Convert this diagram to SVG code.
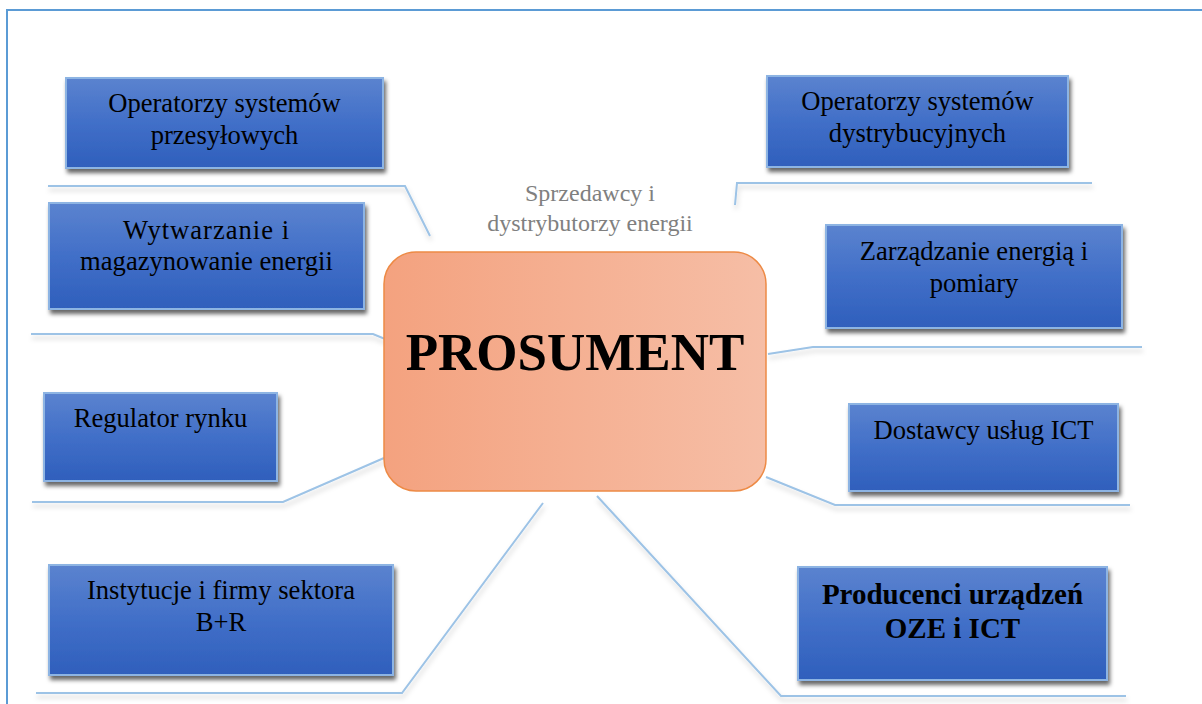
<svg xmlns="http://www.w3.org/2000/svg" width="1202" height="704" viewBox="0 0 1202 704">
<defs>
<linearGradient id="blueGrad" x1="0" y1="0" x2="0" y2="1">
<stop offset="0" stop-color="#5b83cf"/>
<stop offset="0.5" stop-color="#416fc8"/>
<stop offset="1" stop-color="#2f5fbc"/>
</linearGradient>
<linearGradient id="orangeGrad" x1="0" y1="0" x2="1" y2="0">
<stop offset="0" stop-color="#f4a27f"/>
<stop offset="1" stop-color="#f6bea6"/>
</linearGradient>
<filter id="boxShadow" x="-10%" y="-10%" width="125%" height="135%">
<feDropShadow dx="2" dy="4" stdDeviation="2" flood-color="#000" flood-opacity="0.6"/>
</filter>
<filter id="lineShadow" x="-5%" y="-50%" width="110%" height="300%">
<feDropShadow dx="1" dy="4" stdDeviation="2.5" flood-color="#000" flood-opacity="0.18"/>
</filter>
</defs>
<style>
.box{fill:url(#blueGrad);stroke:#8db4e3;stroke-width:2;filter:url(#boxShadow);}
.t{font-family:"Liberation Serif","Times New Roman",serif;font-size:26.6px;fill:#000;text-anchor:middle;}
.tb{font-weight:bold;font-size:29px;}
.conn{fill:none;stroke:#9dc3e6;stroke-width:2;filter:url(#lineShadow);}
.gray{font-family:"Liberation Serif","Times New Roman",serif;font-size:24px;fill:#808080;text-anchor:middle;}
</style>
<rect x="0" y="0" width="1202" height="704" fill="#ffffff"/>
<path d="M7,704 L7,10 L1202,10" fill="none" stroke="#5b9bd5" stroke-width="2"/>

<g id="connectors">
<polyline class="conn" points="48,186 405,186 430,236"/>
<polyline class="conn" points="31,334 373,334 385,339"/>
<polyline class="conn" points="32,502 283,502 384,458"/>
<polyline class="conn" points="36,693 402,693 543,503"/>
<polyline class="conn" points="735,205 737,183 1092,183"/>
<polyline class="conn" points="768,354 813,347 1142,347"/>
<polyline class="conn" points="766,477 835,505 1130,505"/>
<polyline class="conn" points="597,496 781,696 1126,696"/>
</g>

<g id="node-osp">
<rect class="box" x="66" y="78" width="317" height="90"/>
<text class="t" x="224.5" y="112">Operatorzy systemów</text>
<text class="t" x="224.5" y="144">przesyłowych</text>
</g>

<g id="node-wytwarzanie">
<rect class="box" x="49" y="203" width="315" height="106"/>
<text class="t" x="206.5" y="239" letter-spacing="1">Wytwarzanie i</text>
<text class="t" x="206.5" y="270">magazynowanie energii</text>
</g>

<g id="node-regulator">
<rect class="box" x="44" y="393" width="233" height="88"/>
<text class="t" x="160.5" y="427">Regulator rynku</text>
</g>

<g id="node-instytucje">
<rect class="box" x="49" y="565" width="344" height="110"/>
<text class="t" x="221" y="599">Instytucje i firmy sektora</text>
<text class="t" x="221" y="631">B+R</text>
</g>

<g id="node-osd">
<rect class="box" x="767" y="76" width="301" height="91"/>
<text class="t" x="917.5" y="110">Operatorzy systemów</text>
<text class="t" x="917.5" y="142">dystrybucyjnych</text>
</g>

<g id="node-zarzadzanie">
<rect class="box" x="826" y="225" width="296" height="103"/>
<text class="t" x="974" y="260">Zarządzanie energią i</text>
<text class="t" x="974" y="292">pomiary</text>
</g>

<g id="node-dostawcy">
<rect class="box" x="849" y="404" width="269" height="87"/>
<text class="t" x="983.5" y="439">Dostawcy usług ICT</text>
</g>

<g id="node-producenci">
<rect class="box" x="798" y="567" width="309" height="113"/>
<text class="t tb" x="952.5" y="604">Producenci urządzeń</text>
<text class="t tb" x="952.5" y="638">OZE i ICT</text>
</g>

<g id="node-sprzedawcy">
<text class="gray" x="590" y="201">Sprzedawcy i</text>
<text class="gray" x="590" y="231">dystrybutorzy energii</text>
</g>

<g id="node-prosument">
<rect x="384" y="252" width="382" height="239" rx="32" ry="32" fill="url(#orangeGrad)" stroke="#ed8a45" stroke-width="1.5"/>
<text x="575" y="370" font-family="Liberation Serif,'Times New Roman',serif" font-size="53" font-weight="bold" text-anchor="middle" fill="#000">PROSUMENT</text>
</g>
</svg>
